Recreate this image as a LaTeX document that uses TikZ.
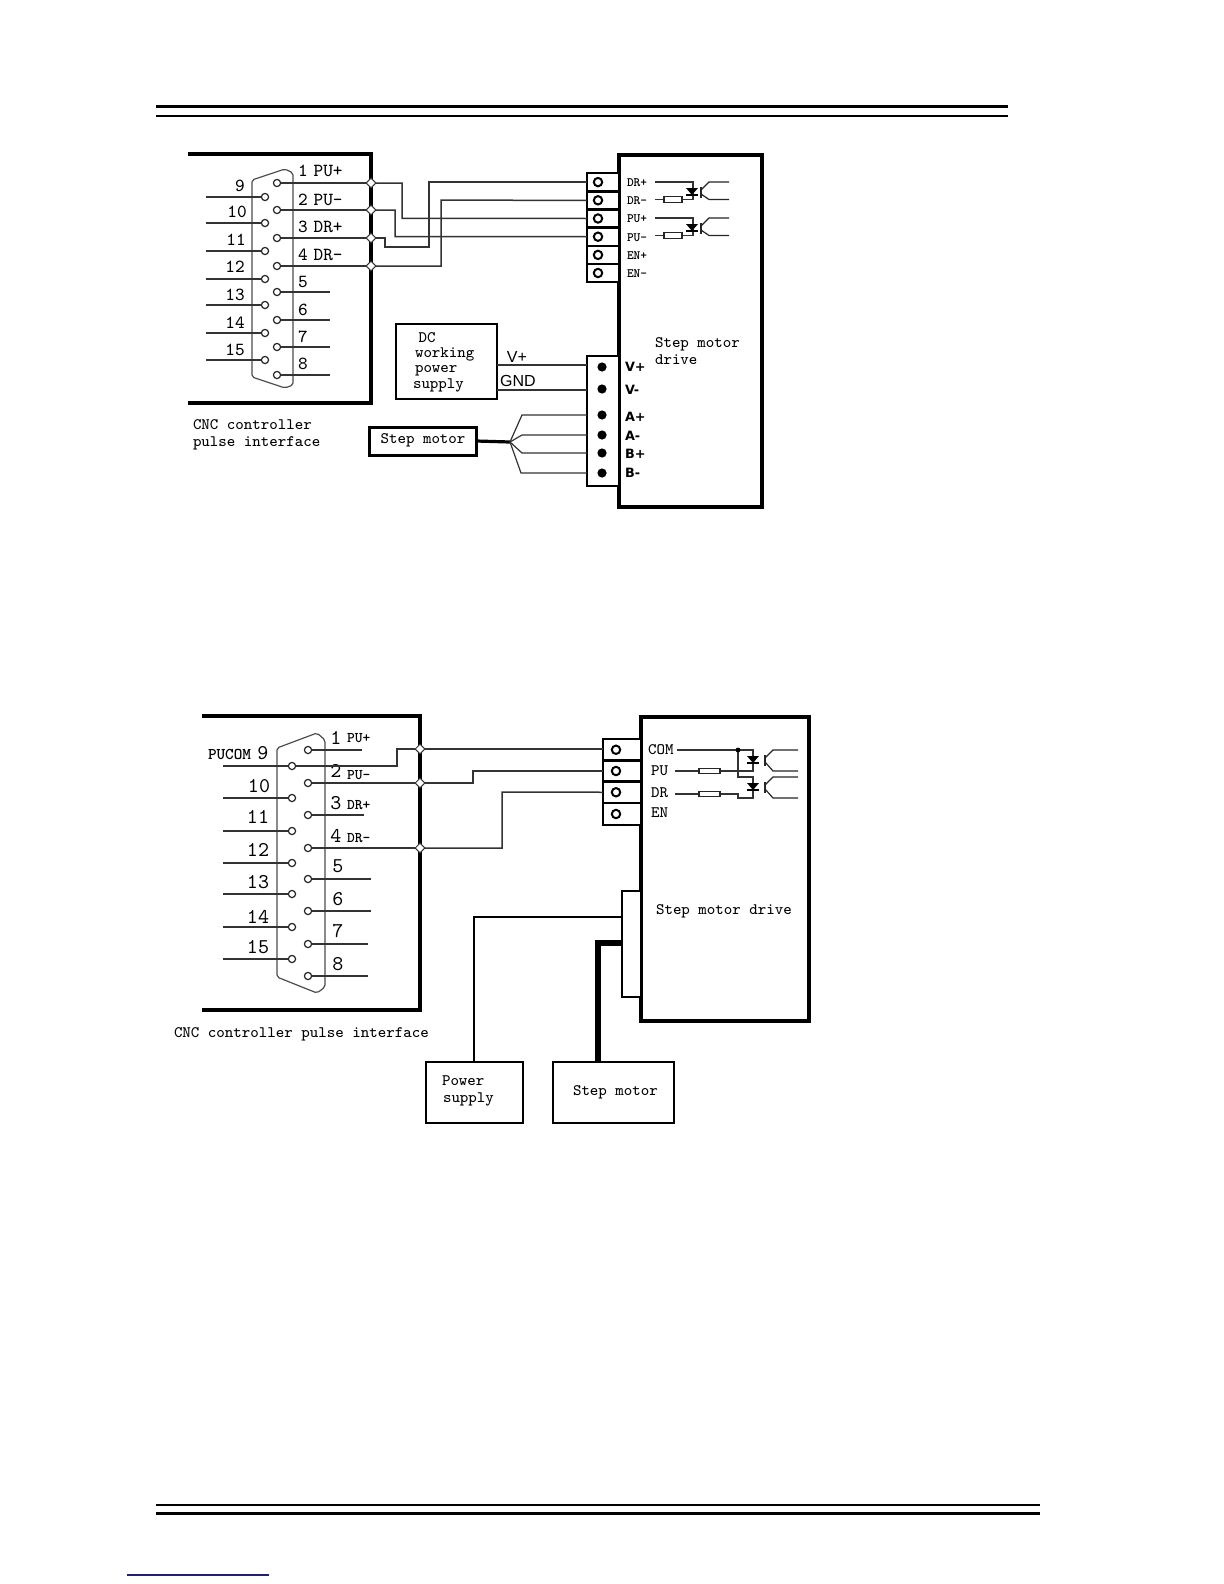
\documentclass[tikz,border=0pt]{standalone}
\usepackage{fontspec}
\usetikzlibrary{shapes.geometric,calc}
\newfontfamily\vfont{DejaVu Sans}
\newfontfamily\thinsans{Liberation Sans}
\tikzset{
 px/.style={x=0.5pt,y=-0.5pt},
 wire/.style={line width=0.75pt,draw=black!80},
 heavy/.style={line width=2pt,draw=black,line cap=rect},
 box/.style={draw=black,rectangle,inner sep=0pt,outer sep=0pt,line width=1pt,fill=white},
 pin/.style={circle,draw=black!85,fill=white,inner sep=0pt,outer sep=0pt,minimum size=3.6pt,line width=0.6pt},
 screw/.style={circle,draw=black,fill=white,inner sep=0pt,outer sep=0pt,minimum size=4.2pt,line width=1pt},
 blackdot/.style={circle,fill=black,inner sep=0pt,outer sep=0pt,minimum size=4.6pt},
 joint/.style={diamond,draw=black!80,fill=white,inner sep=0pt,outer sep=0pt,minimum size=4.8pt,line width=0.5pt},
 res/.style={draw=black!85,rectangle,inner sep=0pt,outer sep=0pt,line width=0.6pt,fill=white,minimum width=9pt,minimum height=2.8pt},
 lbl/.style={inner sep=0pt,outer sep=0pt,anchor=mid west,font=\fontsize{8}{9}\selectfont\ttfamily},
 dig/.style={inner sep=0pt,outer sep=0pt,font=\fontsize{9.2}{10}\selectfont\ttfamily},
 bigdig/.style={inner sep=0pt,outer sep=0pt,font=\fontsize{10.5}{11}\selectfont\ttfamily},
 small/.style={inner sep=0pt,outer sep=0pt,anchor=mid west,font=\fontsize{6.4}{7}\selectfont\ttfamily\bfseries},
 smallb/.style={inner sep=0pt,outer sep=0pt,anchor=mid west,font=\fontsize{7.4}{8}\selectfont\ttfamily\bfseries},
 termb/.style={inner sep=0pt,outer sep=0pt,anchor=mid west,font=\fontsize{6.4}{7}\selectfont\vfont\bfseries},
 sans/.style={inner sep=0pt,outer sep=0pt,font=\fontsize{8}{9}\selectfont\thinsans},
 shell/.style={line width=0.6pt,draw=black!70,rounded corners=1pt},
}
\newcommand\bx[6]{%
 \pgfmathsetmacro\bcx{(#2+#4)/2}\pgfmathsetmacro\bcy{(#3+#5)/2}%
 \node[box,#6,minimum width={(#4-#2)*0.5pt},minimum height={(#5-#3)*0.5pt}] (#1) at (\bcx,\bcy) {};}
% diode x, top y, bottom y, end x, transistor offset
\newcommand\opto[5]{%
 \fill[black] (#1-6,#2+6) -- (#1+6,#2+6) -- (#1,#2+13) -- cycle;
 \draw[line width=0.7pt] (#1-6,#2+13) -- (#1+6,#2+13);
 \draw[line width=0.7pt,black!85] (#1+#5,#2+5) -- (#1+#5,#2+16);
 \draw[line width=0.6pt,black!85] (#1+#5,#2+8) -- (#1+#5+8,#2) -- (#4,#2);
 \draw[line width=0.6pt,black!85] (#1+#5,#2+12) -- (#1+#5+8,#3) -- (#4,#3);
}
\begin{document}
\begin{tikzpicture}[px]
\useasboundingbox (0,0) rectangle (1224,1584);
% page rules
\draw[line width=1.7pt] (156,106.5) -- (1008,106.5);
\draw[line width=0.6pt] (156,116) -- (1008,116);
\draw[line width=0.6pt] (156,1505) -- (1040,1505);
\draw[line width=1.7pt] (156,1513.5) -- (1040,1513.5);
\draw[line width=0.6pt,draw={rgb,255:red,30;green,30;blue,120}] (127,1575) -- (269,1575);

%%%%%%%%%%%%%% upper diagram
\draw[heavy] (190,154) -- (371,154) -- (371,403) -- (190,403);
\draw[shell] (252,180) -- (285,169) -- (293,173) -- (293,385) -- (285,388) -- (252,377) -- cycle;
\foreach \n/\y in {1/183,2/210,3/238,4/266,5/292,6/320,7/347,8/375}
  \node[pin] (a\n) at (277,\y) {};
\foreach \n/\y in {9/197,10/223,11/251,12/279,13/305,14/333,15/360}{
  \node[pin] (a\n) at (265,\y) {};
  \coordinate (la\n) at (206,\y);
  \draw[wire] (la\n) -- (a\n);
}
\foreach \n in {5,6,7,8}{
  \coordinate (ra\n) at (330,0);
  \draw[wire] (a\n) -- (a\n -| ra\n);
}
\node[dig,anchor=mid west] at (298,172) (ta1l) {1\hspace{3pt}PU+};
\node[dig,anchor=mid west] at (298,201) (ta2l) {2\hspace{3pt}PU-};
\node[dig,anchor=mid west] at (298,228) (ta3l) {3\hspace{3pt}DR+};
\node[dig,anchor=mid west] at (298,256) (ta4l) {4\hspace{3pt}DR-};
\node[dig] (n5) at (303,282) {5};
\node[dig] (n6) at (303,310) {6};
\node[dig] (n7) at (303,337) {7};
\node[dig] (n8) at (303,364) {8};
\node[dig] (n9) at (240,186) {9};
\node[dig] (n10) at (237,212) {10};
\node[dig] (n11) at (236,240) {11};
\node[dig] (n12) at (235,267) {12};
\node[dig] (n13) at (235,295) {13};
\node[dig] (n14) at (235,323) {14};
\node[dig] (n15) at (235,350) {15};
\node[lbl] (cap1a) at (193,425) {CNC controller};
\node[lbl] (cap1b) at (193,442) {pulse interface};
% drive
\bx{driveA}{619}{155}{762}{507}{line width=2pt}
\foreach \n/\a/\b in {1/173/191.2,2/191.2/209.4,3/209.4/227.6,4/227.6/245.8,5/245.8/264,6/264/282}{
  \bx{ta\n}{587}{\a}{619}{\b}{line width=1.3pt}
}
\foreach \n in {1,...,6}
  \node[screw] (sa\n) at ($(ta\n.center)+(-5,0)$) {};
% joints
\foreach \n/\y in {1/183,2/210,3/238,4/266}{
  \node[joint] (ja\n) at (371,\y) {};
  \draw[wire] (a\n) -- (ja\n);
}
\draw[wire] (ja1) -| (402,218.4) -- (ta3.west);
\draw[wire] (ja2) -| (395,236.5) -- (ta4.west);
\draw[wire] (ja3) -- (385,238) |- (429,247) |- (ta1.west);
\draw[wire] (ja4) -| (441,200.2) -- (ta2.west);
\node[small] (dl1) at (627,182) {DR+};
\node[small] (dl2) at (627,200) {DR-};
\node[small] (dl3) at (627,218) {PU+};
\node[small] (dl4) at (627,237) {PU-};
\node[small] (dl5) at (627,255) {EN+};
\node[small] (dl6) at (627,273) {EN-};
% optos upper
\foreach \t/\b in {182/199.5,218/235.5}{
  \draw[wire,line width=0.6pt] (655,\t) -- (693,\t) -- (693,\b) -- (655,\b);
  \node[res] at (673,\b) {};
  \opto{692}{\t}{\b}{729}{9}
}
\node[lbl] (sd1) at (655,343) {Step motor};
\node[lbl] (sd2) at (655,360) {drive};
% DC
\bx{dc}{396}{324}{497}{399}{line width=0.75pt}
\node[lbl,anchor=center] (dct1) at (427,338) {DC};
\node[lbl] (dct2) at (415,353) {working};
\node[lbl] (dct3) at (415,368) {power};
\node[lbl] (dct4) at (413,384) {supply};
\bx{tb}{587}{356}{619}{486}{line width=1.3pt}
\foreach \n/\y in {1/367,2/389,3/415,4/435,5/453,6/473}
  \node[blackdot] (da\n) at (602,\y) {};
\coordinate (vw) at (587,365);
\coordinate (gw) at (587,390);
\draw[wire] (dc.east |- vw) -- (tb.west |- vw);
\draw[wire] (dc.east |- gw) -- (tb.west |- gw);
\node[sans] (vp) at (517,357) {V+};
\node[sans] (gnd) at (518,381) {GND};
\node[termb] at (625,367) {V+};
\node[termb] at (625,390) {V-};
\node[termb] at (625,417) {A+};
\node[termb] at (625,436) {A-};
\node[termb] at (625,454) {B+};
\node[termb] at (625,473) {B-};
% motor
\bx{sma}{369}{427}{476}{455}{line width=1.5pt}
\node[lbl,anchor=mid] (smat) at (423,439) {Step motor};
\coordinate (hub) at (510,442);
\draw[line width=1.6pt] (sma.east) -- (hub);
\draw[wire,line width=0.6pt] (hub) -- (522,415) -- (tb.west |- da3);
\draw[wire,line width=0.6pt] (hub) -- (522,435) -- (tb.west |- da4);
\draw[wire,line width=0.6pt] (hub) -- (522,453) -- (tb.west |- da5);
\draw[wire,line width=0.6pt] (hub) -- (521,473) -- (tb.west |- da6);

%%%%%%%%%%%%%% lower diagram
\draw[heavy] (204,716) -- (420,716) -- (420,1010) -- (204,1010);
\draw[shell] (277,748) -- (317,733) -- (325,740) -- (325,987) -- (317,993) -- (277,977) -- cycle;
\foreach \n/\y in {1/750,2/783,3/815,4/848,5/879,6/911,7/944,8/976}
  \node[pin] (b\n) at (308,\y) {};
\foreach \n/\y in {9/766,10/798,11/831,12/863,13/894,14/927,15/959}{
  \node[pin] (b\n) at (292,\y) {};
  \coordinate (lb\n) at (223,\y);
  \draw[wire] (lb\n) -- (b\n);
}
\foreach \n/\xx in {1/362,3/364,5/371,6/371,7/368,8/368}{
  \coordinate (rb\n) at (\xx,0);
  \draw[wire] (b\n) -- (b\n -| rb\n);
}
\node[bigdig] (m1) at (336,738) {1};
\node[bigdig] (m2) at (336,771) {2};
\node[bigdig] (m3) at (336,803) {3};
\node[bigdig] (m4) at (336,836) {4};
\node[bigdig] (m5) at (338,866) {5};
\node[bigdig] (m6) at (338,899) {6};
\node[bigdig] (m7) at (338,931) {7};
\node[bigdig] (m8) at (338,964) {8};
\node[smallb] at (347,738) {PU+};
\node[smallb] at (347,775) {PU-};
\node[smallb] at (347,805) {DR+};
\node[smallb] at (347,838) {DR-};
\node[smallb,font=\fontsize{8.2}{9}\selectfont\ttfamily\bfseries] (pucom) at (208,755) {PUCOM};
\node[bigdig] (m9) at (263,753) {9};
\node[bigdig] (m10) at (259,786) {10};
\node[bigdig] (m11) at (258,817) {11};
\node[bigdig] (m12) at (258,850) {12};
\node[bigdig] (m13) at (258,882) {13};
\node[bigdig] (m14) at (258,917) {14};
\node[bigdig] (m15) at (258,947) {15};
\node[lbl] (cap2) at (174,1033) {CNC controller pulse interface};
% drive
\bx{driveB}{641}{717}{809}{1021}{line width=2pt}
\foreach \n/\a/\b in {1/739/760.5,2/760.5/781.5,3/781.5/803,4/803/825}{
  \bx{tc\n}{603}{\a}{641}{\b}{line width=1.3pt}
}
\foreach \n in {1,...,4}
  \node[screw] (sc\n) at ($(tc\n.center)+(-6,0)$) {};
\foreach \n/\y in {1/749,2/783,4/848}
  \node[joint] (jb\n) at (420,\y) {};
\draw[wire] (b2) -- (jb2);
\draw[wire] (b4) -- (jb4);
\draw[wire] (b9) -- (397,766) -- (397,749) -- (jb1);
\draw[wire] (jb1) -- (tc1.west |- jb1);
\draw[wire] (jb2) -| (473,771) -- (tc2.west);
\draw[wire] (jb4) -| (502,792) -- (tc3.west);
\node[lbl] (com) at (648,750) {COM};
\node[lbl] (pu) at (651,771) {PU};
\node[lbl] (dr) at (651,793) {DR};
\node[lbl] (en) at (651,813) {EN};
% optos lower
\draw[wire,line width=0.6pt] (677,750) -- (753,750) -- (753,771) -- (675,771);
\draw[wire,line width=0.6pt] (738,750) -- (738,777) -- (753,777) -- (753,798) -- (738,798) -- (738,794) -- (675,794);
\fill (738,750) circle[radius=2.4];
\node[res,minimum width=10.5pt] at (709.5,771) {};
\node[res,minimum width=10.5pt] at (709.5,794) {};
\opto{753}{750}{771}{798}{12}
\opto{753}{777}{798}{798}{12}
\node[lbl] (sdb) at (656,910) {Step motor drive};
\bx{conn}{622}{891}{641}{997}{line width=1.2pt}
% power + motor
\bx{psu}{426}{1062}{523}{1123}{line width=1.35pt}
\bx{smb}{553}{1062}{674}{1123}{line width=1.35pt}
\node[lbl] (psu1) at (442,1081) {Power};
\node[lbl] (psu2) at (443,1098) {supply};
\node[lbl] (smbt) at (573,1091) {Step motor};
\coordinate (pw) at (474,917);
\coordinate (mw) at (598,943);
\draw[line width=1.3pt] (conn.west |- pw) -- (pw) -- (pw |- psu.north);
\draw[line width=3pt] (conn.west |- mw) -- (mw) -- (mw |- smb.north);
\end{tikzpicture}
\end{document}
